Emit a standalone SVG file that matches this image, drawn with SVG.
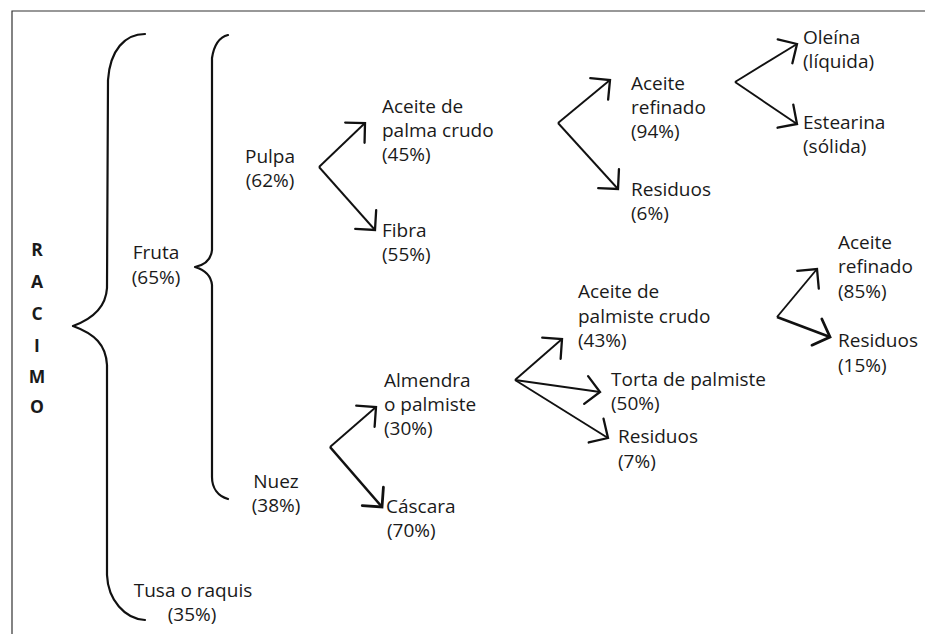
<svg xmlns="http://www.w3.org/2000/svg" width="925" height="634" viewBox="0 0 925 634">
<style>
  text { font-family: "Open Sans", "Liberation Sans", sans-serif; font-size: 19px; fill: #1a1a1a; }
  .b { font-weight: bold; font-size: 17.5px; text-anchor: middle; }
  .m { text-anchor: middle; }
  .br { fill: none; stroke: #111; stroke-width: 2.2; stroke-linecap: round; stroke-linejoin: round; }
  .ar { fill: none; stroke: #111; stroke-width: 1.9; marker-end: url(#ah); }
  .ar2 { fill: none; stroke: #111; stroke-width: 2.6; marker-end: url(#ah2); }
</style>
<defs>
  <marker id="ah" markerUnits="userSpaceOnUse" markerWidth="30" markerHeight="30" refX="0" refY="0" orient="auto" overflow="visible">
    <path d="M-14,-14 L0,0 L-14,14" fill="none" stroke="#111" stroke-width="2.3" stroke-linecap="round" stroke-linejoin="miter"/>
  </marker>
  <marker id="ah2" markerUnits="userSpaceOnUse" markerWidth="30" markerHeight="30" refX="0" refY="0" orient="auto" overflow="visible">
    <path d="M-14,-14 L0,0 L-14,14" fill="none" stroke="#111" stroke-width="2.8" stroke-linecap="round" stroke-linejoin="miter"/>
  </marker>
</defs>
<rect width="925" height="634" fill="#fff"/>
<path d="M12,634 L12,11 L925,11" fill="none" stroke="#333" stroke-width="1.2"/>

<g id="braces">
  <path class="br" d="M145,34 C125,34 110,50 108,80 L107,288 C106,305 95,318 73,326 C95,334 106,345 107,365 L107,575 C108,600 125,619 145,620"/>
  <path class="br" d="M228,35 C220,37 214,45 212,58 L212,250 C211,260 205,265 195,267 C205,270 211,275 212,285 L212,477 C212,488 218,496 228,499"/>
</g>

<g id="connectors">
  <path class="ar" d="M319,167 L365,123"/>
  <path class="ar" d="M319,167 L375,230"/>
  <path class="ar" d="M330,447 L376,407"/>
  <path class="ar2" d="M330,447 L382,507"/>
  <path class="ar" d="M558,123 L610,80"/>
  <path class="ar" d="M558,123 L618,189"/>
  <path class="ar" d="M735,82 L797,44"/>
  <path class="ar" d="M735,82 L797,124"/>
  <path class="ar" d="M515,380 L562,339"/>
  <path class="ar" d="M515,380 L600,392"/>
  <path class="ar" d="M515,380 L608,438"/>
  <path class="ar" d="M777,317 L817,269"/>
  <path class="ar2" d="M777,317 L830,337"/>
</g>

<g id="racimo">
  <text class="b" x="37" y="256">R</text>
  <text class="b" x="37" y="288">A</text>
  <text class="b" x="37" y="320">C</text>
  <text class="b" x="37" y="352">I</text>
  <text class="b" x="37" y="383">M</text>
  <text class="b" x="37" y="413">O</text>
</g>
<g id="fruta"><text class="m" x="156" y="259">Fruta</text><text class="m" x="156" y="284">(65%)</text></g>
<g id="tusa"><text class="m" x="193" y="597">Tusa o raquis</text><text class="m" x="192" y="621">(35%)</text></g>
<g id="pulpa"><text class="m" x="270" y="163">Pulpa</text><text class="m" x="270" y="187">(62%)</text></g>
<g id="nuez"><text class="m" x="276" y="488">Nuez</text><text class="m" x="276" y="512">(38%)</text></g>
<g id="aceite-palma"><text x="382" y="113">Aceite de</text><text x="382" y="137">palma crudo</text><text x="382" y="161">(45%)</text></g>
<g id="fibra"><text x="382" y="237">Fibra</text><text x="382" y="261">(55%)</text></g>
<g id="almendra"><text x="384" y="387">Almendra</text><text x="384" y="411">o palmiste</text><text x="384" y="435">(30%)</text></g>
<g id="cascara"><text x="386" y="513">Cáscara</text><text x="387" y="537">(70%)</text></g>
<g id="aceite-refinado-94"><text x="631" y="90">Aceite</text><text x="631" y="114">refinado</text><text x="631" y="138">(94%)</text></g>
<g id="residuos-6"><text x="631" y="196">Residuos</text><text x="631" y="220">(6%)</text></g>
<g id="oleina"><text x="803" y="44">Oleína</text><text x="803" y="68">(líquida)</text></g>
<g id="estearina"><text x="803" y="129">Estearina</text><text x="803" y="153">(sólida)</text></g>
<g id="aceite-palmiste"><text x="578" y="298">Aceite de</text><text x="578" y="323">palmiste crudo</text><text x="578" y="347">(43%)</text></g>
<g id="torta"><text x="611" y="386">Torta de palmiste</text><text x="611" y="410">(50%)</text></g>
<g id="residuos-7"><text x="618" y="443">Residuos</text><text x="618" y="468">(7%)</text></g>
<g id="aceite-refinado-85"><text x="838" y="249">Aceite</text><text x="838" y="273">refinado</text><text x="838" y="298">(85%)</text></g>
<g id="residuos-15"><text x="838" y="347">Residuos</text><text x="838" y="372">(15%)</text></g>
</svg>
